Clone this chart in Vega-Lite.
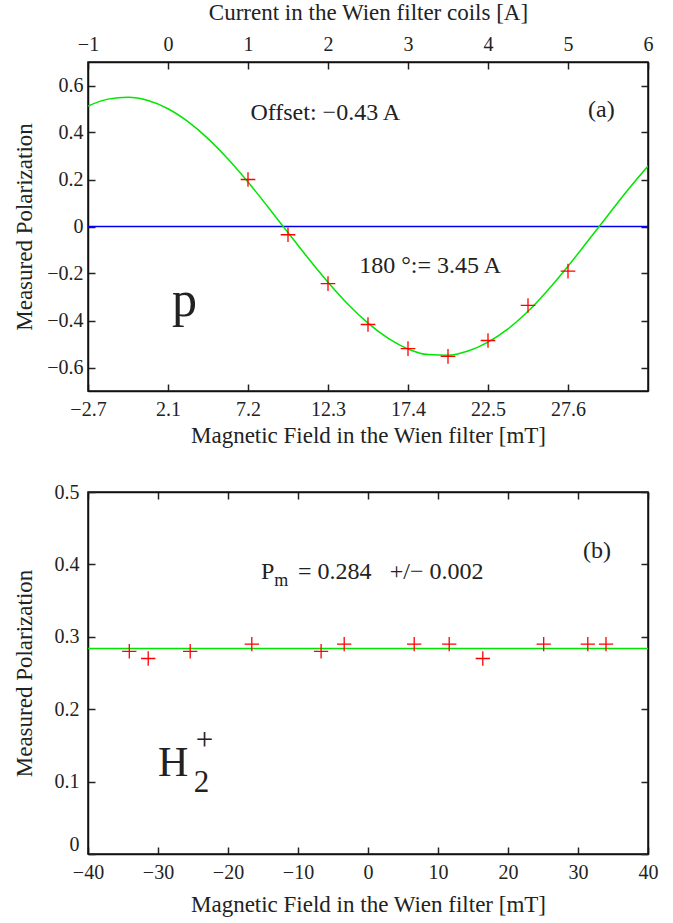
{
  "$schema": "https://vega.github.io/schema/vega-lite/v6.json",
  "background": "white",
  "padding": {"left": 12, "top": 0, "right": 10, "bottom": 2},
  "spacing": 33,
  "config": {
    "font": "Liberation Serif",
    "view": {"stroke": "#111", "strokeWidth": 1.5},
    "axis": {
      "labelFont": "Liberation Serif", "titleFont": "Liberation Serif",
      "labelFontSize": 20, "titleFontSize": 23, "titleFontWeight": "normal",
      "labelColor": "#222", "titleColor": "#222", "tickColor": "#222", "domainColor": "#111",
      "domainWidth": 1.5, "tickWidth": 1.5, "tickSize": -7, "grid": false,
      "labelFlush": false, "labelOverlap": false, "labelPadding": 15
    },
    "text": {"font": "Liberation Serif", "color": "#222"}
  },
  "datasets": {
    "curveA": [
      {"current": -1, "pol": 0.513}, {"current": -0.75, "pol": 0.542}, {"current": -0.5, "pol": 0.550},
      {"current": -0.25, "pol": 0.536}, {"current": 0, "pol": 0.501}, {"current": 0.25, "pol": 0.446},
      {"current": 0.5, "pol": 0.374}, {"current": 0.75, "pol": 0.287}, {"current": 1, "pol": 0.189},
      {"current": 1.25, "pol": 0.083}, {"current": 1.5, "pol": -0.026}, {"current": 1.75, "pol": -0.134},
      {"current": 2, "pol": -0.237}, {"current": 2.25, "pol": -0.331}, {"current": 2.5, "pol": -0.411},
      {"current": 2.75, "pol": -0.475}, {"current": 3, "pol": -0.521}, {"current": 3.25, "pol": -0.545},
      {"current": 3.5, "pol": -0.548}, {"current": 3.75, "pol": -0.530}, {"current": 4, "pol": -0.492},
      {"current": 4.25, "pol": -0.436}, {"current": 4.5, "pol": -0.361}, {"current": 4.75, "pol": -0.270},
      {"current": 5, "pol": -0.169}, {"current": 5.25, "pol": -0.061}, {"current": 5.5, "pol": 0.048},
      {"current": 5.75, "pol": 0.156}, {"current": 6, "pol": 0.257}
    ],
    "pointsA": [
      {"current": 1, "pol": 0.20}, {"current": 1.5, "pol": -0.035}, {"current": 2, "pol": -0.243},
      {"current": 2.5, "pol": -0.417}, {"current": 3, "pol": -0.52}, {"current": 3.5, "pol": -0.553},
      {"current": 4, "pol": -0.485}, {"current": 4.5, "pol": -0.336}, {"current": 5, "pol": -0.19}
    ],
    "zeroA": [{"level": 0}],
    "notesA": [
      {"current": 1.03, "pol": 0.455, "text": "Offset: −0.43 A"},
      {"current": 5.25, "pol": 0.464, "text": "(a)"},
      {"current": 2.39, "pol": -0.196, "text": "180 °:= 3.45 A"}
    ],
    "bigA": [{"current": 0.05, "pol": -0.379, "text": "p"}],
    "pointsB": [
      {"field": -34.1, "pol": 0.28}, {"field": -31.4, "pol": 0.27}, {"field": -25.4, "pol": 0.28},
      {"field": -16.6, "pol": 0.29}, {"field": -6.7, "pol": 0.28}, {"field": -3.4, "pol": 0.29},
      {"field": 6.6, "pol": 0.29}, {"field": 11.6, "pol": 0.29}, {"field": 16.4, "pol": 0.27},
      {"field": 25.1, "pol": 0.29}, {"field": 31.4, "pol": 0.29}, {"field": 34.0, "pol": 0.29}
    ],
    "fitB": [{"pm": 0.284}],
    "notesB": [
      {"field": -15.3, "pol": 0.380, "text": "P"},
      {"field": -10.0, "pol": 0.380, "text": "= 0.284"},
      {"field": 3.1, "pol": 0.380, "text": "+/− 0.002"},
      {"field": 30.7, "pol": 0.409, "text": "(b)"}
    ],
    "subB": [{"field": -13.4, "pol": 0.370, "text": "m"}],
    "bigB": [{"field": -30, "pol": 0.108, "text": "H"}],
    "scriptB": [
      {"field": -24.9, "pol": 0.086, "text": "2"},
      {"field": -24.6, "pol": 0.144, "text": "+"}
    ]
  },
  "vconcat": [
    {
      "width": 560,
      "height": 329,
      "layer": [
        {
          "data": {"name": "zeroA"},
          "mark": {"type": "rule", "color": "#0000ee", "strokeWidth": 1.3},
          "encoding": {
            "y": {"field": "level", "type": "quantitative", "axis": null}
          }
        },
        {
          "data": {"name": "curveA"},
          "mark": {"type": "line", "color": "#00e600", "strokeWidth": 1.5, "interpolate": "monotone", "clip": true},
          "encoding": {
            "x": {
              "field": "current", "type": "quantitative",
              "scale": {"domain": [-1, 6], "nice": false, "zero": false},
              "axis": {
                "orient": "bottom", "values": [-1, 0, 1, 2, 3, 4, 5],
                "labelExpr": "['−2.7','2.1','7.2','12.3','17.4','22.5','27.6'][datum.value + 1]",
                "title": "Magnetic Field in the Wien filter [mT]", "labelPadding": 15, "titlePadding": 5
              }
            },
            "y": {
              "field": "pol", "type": "quantitative",
              "scale": {"domain": [-0.7, 0.7], "nice": false, "zero": false},
              "axis": {
                "orient": "left", "values": [-0.6, -0.4, -0.2, 0, 0.2, 0.4, 0.6], "format": "~g",
                "title": "Measured Polarization", "labelPadding": 12, "titleX": -52
              }
            }
          }
        },
        {
          "data": {"name": "pointsA"},
          "mark": {"type": "point", "shape": "M-1,0L1,0M0,-1L0,1", "size": 215, "color": "#ff0000", "strokeWidth": 1.3, "filled": false, "opacity": 1},
          "encoding": {
            "x": {
              "field": "current", "type": "quantitative",
              "axis": {
                "orient": "top", "values": [-1, 0, 1, 2, 3, 4, 5, 6],
                "title": "Current in the Wien filter coils [A]", "labelPadding": 15, "titlePadding": 10
              }
            },
            "y": {
              "field": "pol", "type": "quantitative",
              "axis": {"orient": "right", "values": [-0.6, -0.4, -0.2, 0, 0.2, 0.4, 0.6], "labels": false, "title": null}
            }
          }
        },
        {
          "data": {"name": "notesA"},
          "mark": {"type": "text", "align": "left", "baseline": "alphabetic", "fontSize": 24},
          "encoding": {
            "x": {"field": "current", "type": "quantitative", "axis": null},
            "y": {"field": "pol", "type": "quantitative", "axis": null},
            "text": {"field": "text"}
          }
        },
        {
          "data": {"name": "bigA"},
          "mark": {"type": "text", "align": "left", "baseline": "alphabetic", "fontSize": 50},
          "encoding": {
            "x": {"field": "current", "type": "quantitative", "axis": null},
            "y": {"field": "pol", "type": "quantitative", "axis": null},
            "text": {"field": "text"}
          }
        }
      ],
      "resolve": {"axis": {"x": "independent", "y": "independent"}}
    },
    {
      "width": 560,
      "height": 362,
      "layer": [
        {
          "data": {"name": "fitB"},
          "mark": {"type": "rule", "color": "#00e600", "strokeWidth": 1.5},
          "encoding": {
            "y": {"field": "pm", "type": "quantitative", "axis": null}
          }
        },
        {
          "data": {"name": "pointsB"},
          "mark": {"type": "point", "shape": "M-1,0L1,0M0,-1L0,1", "size": 205, "color": "#ff0000", "strokeWidth": 1.3, "filled": false, "opacity": 1},
          "encoding": {
            "x": {
              "field": "field", "type": "quantitative",
              "scale": {"domain": [-40, 40], "nice": false, "zero": false},
              "axis": {
                "orient": "bottom", "values": [-40, -30, -20, -10, 0, 10, 20, 30, 40],
                "title": "Magnetic Field in the Wien filter [mT]", "labelPadding": 15, "titlePadding": 11
              }
            },
            "y": {
              "field": "pol", "type": "quantitative",
              "scale": {"domain": [0, 0.5], "nice": false},
              "axis": {
                "orient": "left", "values": [0, 0.1, 0.2, 0.3, 0.4, 0.5], "format": "~g",
                "labelBaseline": {"condition": {"test": "datum.value === 0", "value": "bottom"}, "value": "middle"},
                "title": "Measured Polarization", "labelPadding": 16, "titleX": -52
              }
            }
          }
        },
        {
          "data": {"name": "pointsB"},
          "mark": {"type": "point", "shape": "M-1,0L1,0M0,-1L0,1", "size": 205, "color": "#ff0000", "strokeWidth": 1.3, "filled": false, "opacity": 0},
          "encoding": {
            "x": {
              "field": "field", "type": "quantitative",
              "axis": {"orient": "top", "values": [-40, -30, -20, -10, 0, 10, 20, 30, 40], "labels": false, "title": null}
            },
            "y": {
              "field": "pol", "type": "quantitative",
              "axis": {"orient": "right", "values": [0, 0.1, 0.2, 0.3, 0.4, 0.5], "labels": false, "title": null}
            }
          }
        },
        {
          "data": {"name": "notesB"},
          "mark": {"type": "text", "align": "left", "baseline": "alphabetic", "fontSize": 24},
          "encoding": {
            "x": {"field": "field", "type": "quantitative", "axis": null},
            "y": {"field": "pol", "type": "quantitative", "axis": null},
            "text": {"field": "text"}
          }
        },
        {
          "data": {"name": "subB"},
          "mark": {"type": "text", "align": "left", "baseline": "alphabetic", "fontSize": 18},
          "encoding": {
            "x": {"field": "field", "type": "quantitative", "axis": null},
            "y": {"field": "pol", "type": "quantitative", "axis": null},
            "text": {"field": "text"}
          }
        },
        {
          "data": {"name": "bigB"},
          "mark": {"type": "text", "align": "left", "baseline": "alphabetic", "fontSize": 42},
          "encoding": {
            "x": {"field": "field", "type": "quantitative", "axis": null},
            "y": {"field": "pol", "type": "quantitative", "axis": null},
            "text": {"field": "text"}
          }
        },
        {
          "data": {"name": "scriptB"},
          "mark": {"type": "text", "align": "left", "baseline": "alphabetic", "fontSize": 31},
          "encoding": {
            "x": {"field": "field", "type": "quantitative", "axis": null},
            "y": {"field": "pol", "type": "quantitative", "axis": null},
            "text": {"field": "text"}
          }
        }
      ],
      "resolve": {"axis": {"x": "independent", "y": "independent"}}
    }
  ]
}
